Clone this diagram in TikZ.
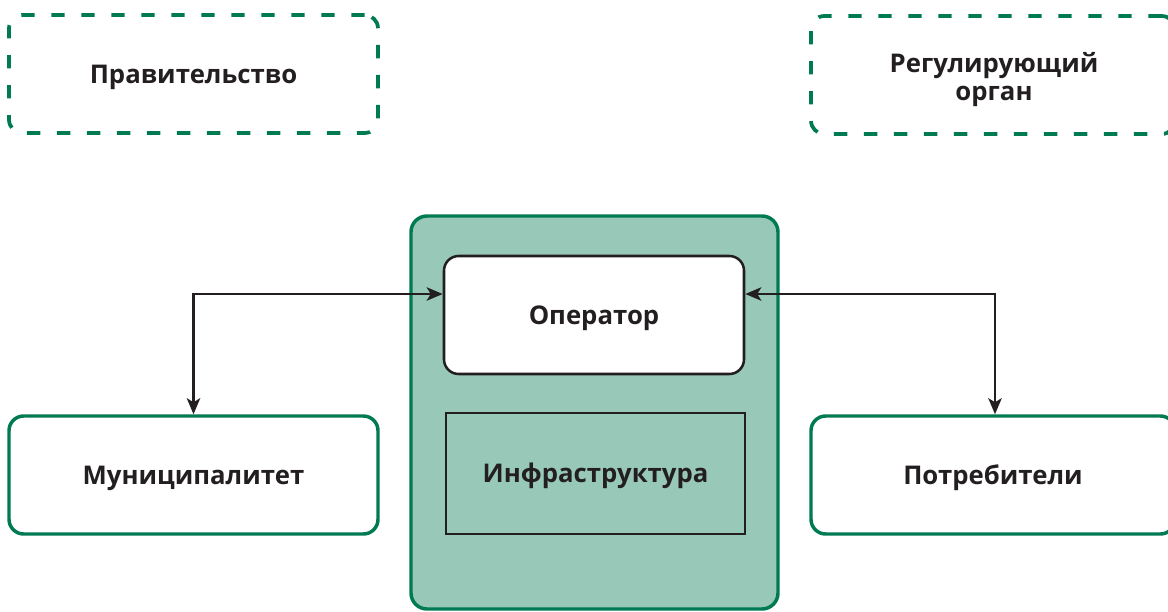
\documentclass[tikz,border=0pt]{standalone}
\usepackage{fontspec}
\setmainfont{Open Sans}
\usetikzlibrary{arrows.meta}
\definecolor{grn}{HTML}{007A53}
\definecolor{grnfill}{HTML}{98C9B8}
\definecolor{ink}{HTML}{231F20}
\tikzset{
  lbl/.style={font=\bfseries\fontsize{19.3}{21}\selectfont, text=ink, align=center,
    text height=13.8pt, text depth=0pt},
  dashbox/.style={lbl, draw=grn, line width=2.8pt, rounded corners=10pt,
    dash pattern=on 10pt off 12.5pt, minimum height=88.5pt},
  solidbox/.style={lbl, draw=grn, line width=2.6pt, rounded corners=11pt, fill=white,
    minimum height=88.5pt},
  opbox/.style={lbl, draw=ink, line width=1.9pt, rounded corners=11pt, fill=white,
    minimum width=225pt, minimum height=88.5pt},
  infrabox/.style={lbl, draw=ink, line width=1.4pt,
    minimum width=224.25pt, minimum height=90.75pt},
  plant/.style={draw=grn, fill=grnfill, line width=2.6pt, rounded corners=12pt,
    minimum width=275.25pt, minimum height=294.75pt},
  link/.style={draw=ink, line width=1.9pt,
    >={Stealth[length=12pt,width=10pt,inset=3pt]}, <->},
}
\begin{document}
\begin{tikzpicture}[x=0.75pt,y=-0.75pt]
\useasboundingbox (0,0) rectangle (1168,611);
\clip (0,0) rectangle (1168,611);

% outside actors
\node[dashbox, minimum width=276.75pt] (gov) at (193.5,74) {Правительство};
\node[dashbox, minimum width=273pt] (reg) at (993,75) {};
\node[lbl, anchor=base] (regtxt) at (994,100) {Регулирующий\\орган};
\node[solidbox, minimum width=276.75pt] (mun) at (193.5,475) {Муниципалитет};
\node[solidbox, minimum width=273pt] (cons) at (993,475) {Потребители};

% operator block with its infrastructure
\node[plant] (plant) at (594.5,412.5) {};
\node[opbox] (op) at (594,315) {Оператор};
\node[infrabox] (infra) at (595.5,473.5) {Инфраструктура};

% links to the operator
\coordinate (lk) at (193,294);
\coordinate (rk) at (995,294);
\draw[link] (mun.north) -- (mun.north|-lk) -- (op.west|-lk);
\draw[link] (cons.north-|rk) -- (rk) -- (op.east|-rk);
\end{tikzpicture}
\end{document}
